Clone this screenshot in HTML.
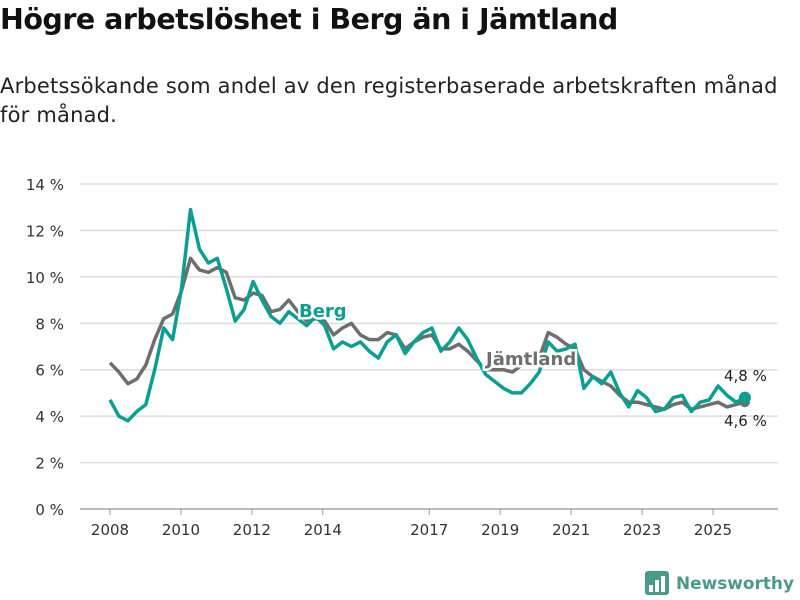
<!DOCTYPE html>
<html><head><meta charset="utf-8"><style>
body{margin:0;width:800px;height:600px;background:#fff;font-family:"Liberation Sans","DejaVu Sans",sans-serif;overflow:hidden;position:relative}
h1{position:absolute;left:0;top:3px;margin:0;font-size:28.5px;font-weight:bold;color:#111;font-family:"DejaVu Sans","Liberation Sans",sans-serif;letter-spacing:-0.5px}
.sub{position:absolute;left:0;top:72px;font-size:21px;line-height:29px;color:#222;font-family:"DejaVu Sans","Liberation Sans",sans-serif;width:800px;white-space:nowrap;letter-spacing:0.2px}
</style></head><body>
<h1>Högre arbetslöshet i Berg än i Jämtland</h1>
<div class="sub">Arbetssökande som andel av den registerbaserade arbetskraften månad<br>för månad.</div>
<svg id="chart" width="800" height="600" style="position:absolute;left:0;top:0"></svg>
<script>
const yTicks=[0,2,4,6,8,10,12,14];
const yTickLabels=["0 %","2 %","4 %","6 %","8 %","10 %","12 %","14 %"];
const xTicks=[2008,2010,2012,2014,2017,2019,2021,2023,2025];
const startYear=2008, endYear=2025.9;
const jamtland=[6.3,5.9,5.4,5.6,6.2,7.3,8.2,8.4,9.4,10.8,10.3,10.2,10.4,10.2,9.1,9.0,9.3,9.2,8.5,8.6,9.0,8.5,8.1,8.2,8.1,7.5,7.8,8.0,7.5,7.3,7.3,7.6,7.5,6.9,7.2,7.4,7.5,6.9,6.9,7.1,6.8,6.4,6.0,6.0,6.0,5.9,6.2,6.5,6.5,7.6,7.4,7.1,6.9,6.0,5.7,5.5,5.3,4.9,4.6,4.6,4.5,4.4,4.3,4.5,4.6,4.3,4.4,4.5,4.6,4.4,4.5,4.6];
const berg=[4.7,4.0,3.8,4.2,4.5,6.0,7.8,7.3,9.5,12.9,11.2,10.6,10.8,9.5,8.1,8.6,9.8,9.0,8.3,8.0,8.5,8.2,7.9,8.3,7.9,6.9,7.2,7.0,7.2,6.8,6.5,7.2,7.5,6.7,7.2,7.6,7.8,6.8,7.2,7.8,7.3,6.5,5.8,5.5,5.2,5.0,5.0,5.4,5.9,7.2,6.8,6.9,7.1,5.2,5.7,5.4,5.9,5.0,4.4,5.1,4.8,4.2,4.3,4.8,4.9,4.2,4.6,4.7,5.3,4.9,4.6,4.8];
const endLabels=["4,8 %","4,6 %"];
const NS="http://www.w3.org/2000/svg";
const svg=document.getElementById('chart');
const xs=y=>110+(y-2008)*35.47;
const ys=v=>509-v*23.21;
function mk(t,a,p){const e=document.createElementNS(NS,t);for(const k in a)e.setAttribute(k,a[k]);(p||svg).appendChild(e);return e;}
yTicks.forEach((v,i)=>{
  const l=mk('line',{x1:80,x2:778,y1:ys(v),y2:ys(v),stroke:v===0?'#bbb':'#ddd','stroke-width':v===0?2:1.5});
  
  
  const t=mk('text',{x:64,y:ys(v)+6,'text-anchor':'end','font-size':15,fill:'#333','font-family':'DejaVu Sans, Liberation Sans, sans-serif'});
  t.textContent=yTickLabels[i];
  
  
});
xTicks.forEach(y=>{
  const l=mk('line',{x1:xs(y),x2:xs(y),y1:509,y2:515,stroke:'#999','stroke-width':1});
  
  
  const t=mk('text',{x:xs(y),y:535,'text-anchor':'middle','font-size':15,fill:'#333','font-family':'DejaVu Sans, Liberation Sans, sans-serif'});
  t.textContent=y;
  
  
});
function path(arr){const step=(endYear-startYear)/(arr.length-1);return arr.map((v,i)=>(i?'L':'M')+xs(startYear+i*step).toFixed(1)+','+ys(v).toFixed(1)).join(' ');}
const pj=mk('path',{d:path(jamtland),fill:'none',stroke:'#6e6e6e','stroke-width':3.5,'stroke-linejoin':'round'});


const pb=mk('path',{d:path(berg),fill:'none',stroke:'#0b9e92','stroke-width':3.5,'stroke-linejoin':'round'});


const lx=xs(endYear);
const dj=mk('circle',{cx:lx,cy:ys(jamtland[jamtland.length-1]),r:5,fill:'#6e6e6e'});


const db=mk('circle',{cx:lx,cy:ys(berg[berg.length-1]),r:6,fill:'#0b9e92'});


function lab(txt,x,y,fill,bold,name){const t=mk('text',{x:x,y:y,'font-size':bold?18:15,'font-weight':bold?'bold':'normal',fill:fill,stroke:'#fff','stroke-width':bold?5:0,'paint-order':'stroke','font-family':'DejaVu Sans, Liberation Sans, sans-serif'});t.textContent=txt;}
lab('Berg',299,317,'#0b9e92',true,'berg-label');
lab('Jämtland',486,365,'#6e6e6e',true,'jamtland-label');
lab(endLabels[0],724,381,'#222',false,'berg-end-value');
lab(endLabels[1],724,426,'#222',false,'jamtland-end-value');
const g=mk('g',{});


mk('rect',{x:645,y:571,width:24,height:24,rx:3,fill:'#4a9a8a'},g);
[[649,585,4,7],[655,580,4,12],[661,576,4,16]].forEach(r=>mk('rect',{x:r[0],y:r[1],width:r[2],height:r[3],fill:'#fff'},g));
const lt=mk('text',{x:676,y:589,'font-size':17,'font-weight':'bold',fill:'#4a9a8a','font-family':'DejaVu Sans, Liberation Sans, sans-serif','textLength':118,'lengthAdjust':'spacingAndGlyphs'},g);
lt.textContent='Newsworthy';
</script>
</body></html>
